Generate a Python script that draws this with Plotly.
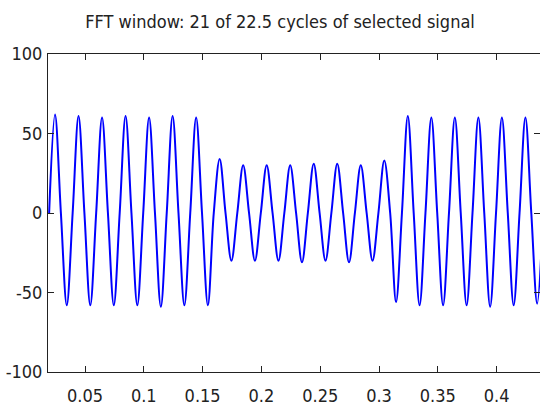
import plotly.graph_objects as go

# Signal samples read at quarter-cycle points (peak, zero, trough, zero ...)
SAMPLE_START = 0.0195   # s, first rising zero crossing
SAMPLE_STEP = 0.005     # s, quarter of a 50 Hz cycle
SIGNAL = [
    0, 62, 0, -58,
    0, 61, 0, -58,
    0, 60, 0, -58,
    0, 61, 0, -58,
    0, 60, 0, -59,
    0, 61, 0, -58,
    0, 60, 0, -58,
    0, 34, 0, -30,
    0, 30, 0, -30,
    0, 30, 0, -30,
    0, 30, 0, -31,
    0, 31, 0, -30,
    0, 31, 0, -31,
    0, 30, 0, -30,
    0, 33, 0, -56,
    0, 61, 0, -58,
    0, 60, 0, -58,
    0, 60, 0, -58,
    0, 60, 0, -59,
    0, 60, 0, -58,
    0, 60, 0, -57,
    0,
]

X_TICKS = [0.05, 0.1, 0.15, 0.2, 0.25, 0.3, 0.35, 0.4]
X_TICK_TEXT = ["0.05", "0.1", "0.15", "0.2", "0.25", "0.3", "0.35", "0.4"]
Y_TICKS = [-100, -50, 0, 50, 100]
Y_TICK_TEXT = ["-100", "-50", "0", "50", "100"]
X_RANGE = [0.01854, 0.4369]
Y_RANGE = [-100, 100]
TITLE = "FFT window: 21 of 22.5 cycles of selected signal"

FONT = "Liberation Sans Narrow, Arial Narrow, DejaVu Sans Condensed, sans-serif"

fig = go.Figure()
fig.add_trace(go.Scatter(
    y=SIGNAL, x0=SAMPLE_START, dx=SAMPLE_STEP,
    mode="lines",
    line=dict(color="#0000FF", width=2, shape="spline", smoothing=1.0),
    showlegend=False, hoverinfo="skip",
))

axis_common = dict(
    showgrid=False, zeroline=False,
    showline=True, linecolor="#222222", linewidth=1,
    mirror="ticks", ticks="inside", ticklen=6, tickcolor="#222222",
    tickfont=dict(family=FONT, size=18, color="#222222"),
)

fig.update_layout(
    width=540, height=407,
    margin=dict(l=48, r=0, t=54, b=35),
    paper_bgcolor="white", plot_bgcolor="white",
    title=dict(text=TITLE, x=280 / 540, xanchor="center",
               y=1 - 15 / 407, yanchor="top", yref="container",
               font=dict(family=FONT, size=18, color="#222222")),
    xaxis=dict(range=X_RANGE, tickvals=X_TICKS, ticktext=X_TICK_TEXT,
               ticklabelstandoff=7, **axis_common),
    yaxis=dict(range=Y_RANGE, tickvals=Y_TICKS, ticktext=Y_TICK_TEXT,
               ticklabelstandoff=1, **axis_common),
)

fig.write_html("out.html")
